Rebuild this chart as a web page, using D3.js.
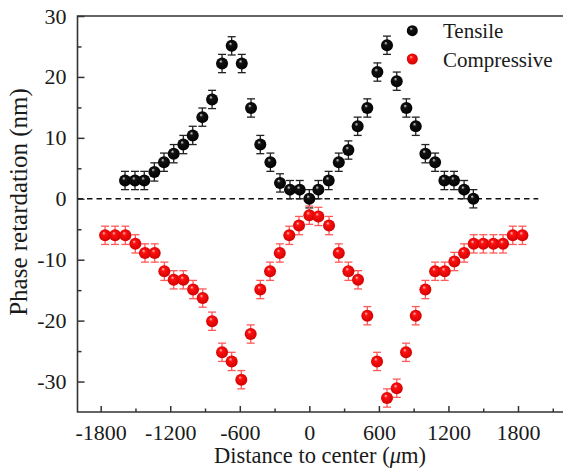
<!DOCTYPE html>
<html>
<head>
<meta charset="utf-8">
<script src="https://cdn.jsdelivr.net/npm/d3@7"></script>
<style>
  html, body { margin: 0; padding: 0; background: #fff; }
  svg { display: block; }
  text { font-family: "Liberation Serif", "Times New Roman", serif; fill: #1a1a1a; }
</style>
</head>
<body>
<svg id="chart" width="563" height="469"></svg>
<script>
// ---- data ----
const tensileX = [-1590,-1504,-1424,-1337,-1254,-1170,-1087,-1006,-923,-839,-753,-670,-583,-503,-423,-336,-253,-167,-83,0,78,167,254,337,417,500,587,670,754,837,918,1001,1085,1165,1248,1335,1415];
const tensileY = [3,3,3,4.4,6,7.4,8.9,10.4,13.4,16.3,22.2,25.1,22.2,14.9,8.9,6,2.6,1.5,1.5,0,1.5,3,6,8,11.9,14.9,20.8,25.2,19.3,14.9,11.9,7.4,6,3,3,1.5,0];
const tensileErr = [1.5,1.5,1.5,1.5,1.5,1.5,1.5,1.5,1.5,1.5,1.5,1.5,1.5,1.5,1.5,1.5,1.5,1.5,1.5,1.5,1.5,1.5,1.5,1.5,1.5,1.5,1.5,1.5,1.5,1.5,1.5,1.5,1.5,1.5,1.5,1.5,1.5];

const compX = [-1762,-1676,-1587,-1501,-1418,-1334,-1251,-1170,-1087,-1003,-920,-839,-753,-670,-587,-506,-423,-339,-255,-173,-89,0,78,170,254,337,420,500,584,670,754,834,918,1001,1085,1168,1251,1335,1418,1501,1588,1671,1755,1838];
const compY = [-6,-6,-6,-7.4,-8.9,-8.9,-11.9,-13.3,-13.3,-14.9,-16.3,-20.1,-25.2,-26.7,-29.7,-22.2,-14.9,-11.9,-8.9,-6,-4.4,-2.7,-2.9,-4.4,-8.9,-11.9,-13.3,-19.2,-26.7,-32.7,-31.1,-25.2,-19.2,-14.9,-11.9,-11.9,-10.3,-8.9,-7.4,-7.4,-7.4,-7.4,-6,-6];
const compErr = [1.5,1.5,1.5,1.5,1.5,1.5,1.5,1.5,1.5,1.5,1.5,1.5,1.5,1.5,1.5,1.5,1.5,1.5,1.5,1.5,1.5,1.5,1.5,1.5,1.5,1.5,1.5,1.5,1.5,1.5,1.5,1.5,1.5,1.5,1.5,1.5,1.5,1.5,1.5,1.5,1.5,1.5,1.5,1.5];

const xMajorTicks = [-1800,-1200,-600,0,600,1200,1800];
const xMinorTicks = [-1500,-900,-300,300,900,1500,2100];
const yMajorTicks = [-30,-20,-10,0,10,20,30];
const yMinorTicks = [-25,-15,-5,5,15,25];
const xTitleParts = ["Distance to center (", "\u03BC", "m)"];
const yTitle = "Phase retardation (nm)";
const seriesNames = ["Tensile", "Compressive"];

// ---- layout ----
const svg = d3.select("#chart");
const plotLeft = 77.5, plotTop = 16, plotBottom = 412;
const x = d3.scaleLinear().domain([-2000, 2200]).range([plotLeft, plotLeft + 4200 * 0.11592]);
const y = d3.scaleLinear().domain([-35, 30]).range([plotBottom, plotTop]);

// gradients for sphere markers
const defs = svg.append("defs");
function sphere(id, base, light, dark) {
  const g = defs.append("radialGradient").attr("id", id)
    .attr("cx", "0.5").attr("cy", "0.5").attr("r", "0.6")
    .attr("fx", "0.38").attr("fy", "0.3");
  g.append("stop").attr("offset", "0%").attr("stop-color", light);
  g.append("stop").attr("offset", "25%").attr("stop-color", base);
  g.append("stop").attr("offset", "100%").attr("stop-color", dark);
}
sphere("gBlack", "#111", "#e0e0e0", "#000");
sphere("gRed", "#ff1010", "#ffc8c8", "#c80000");

// zero dashed line
svg.append("line")
  .attr("x1", x(-2000)).attr("x2", x(1975))
  .attr("y1", y(0)).attr("y2", y(0))
  .attr("stroke", "#111").attr("stroke-width", 1.5)
  .attr("stroke-dasharray", "5.5,4");

// axes
const axisColor = "#333";
const xAxis = svg.append("g").attr("transform", `translate(0,${plotBottom})`)
  .call(d3.axisBottom(x).tickValues(xMajorTicks).tickSize(-6).tickPadding(12).tickFormat(d3.format("d")));
svg.append("g").attr("transform", `translate(0,${plotBottom})`)
  .call(d3.axisBottom(x).tickValues(xMinorTicks).tickSize(-3.5).tickFormat(""))
  .select(".domain").remove();
const yAxis = svg.append("g").attr("transform", `translate(${plotLeft},0)`)
  .call(d3.axisLeft(y).tickValues(yMajorTicks).tickSize(-7).tickPadding(11).tickFormat(d3.format("d")));
svg.append("g").attr("transform", `translate(${plotLeft},0)`)
  .call(d3.axisLeft(y).tickValues(yMinorTicks).tickSize(-4).tickFormat(""))
  .select(".domain").remove();
svg.selectAll(".domain").remove();
svg.selectAll(".tick line").attr("stroke", axisColor).attr("stroke-width", 1.5);
xAxis.selectAll("text").attr("font-size", 22).style("font-family", '"Liberation Serif", serif').attr("fill", "#1a1a1a")
  .text(d => d < 0 ? "-" + Math.abs(d) : d);
yAxis.selectAll("text").attr("font-size", 22).style("font-family", '"Liberation Serif", serif').attr("fill", "#1a1a1a")
  .text(d => d < 0 ? "-" + Math.abs(d) : d);

// frame
svg.append("path")
  .attr("d", `M${x(2200)+2},${plotTop} H${plotLeft} V${plotBottom} H${x(2200)+2}`)
  .attr("fill", "none").attr("stroke", axisColor).attr("stroke-width", 1.6);

// axis titles
const xt = svg.append("text").attr("x", 320).attr("y", 463).attr("text-anchor", "middle")
  .attr("font-size", 22.5);
xt.append("tspan").text(xTitleParts[0]);
xt.append("tspan").attr("font-style", "italic").text(xTitleParts[1]);
xt.append("tspan").text(xTitleParts[2]);
svg.append("text").attr("transform", `translate(27,202) rotate(-90)`).attr("text-anchor", "middle")
  .attr("font-size", 25).text(yTitle);

// series
function drawSeries(xs, ys, es, fillId, errColor) {
  const data = xs.map((d, i) => ({ x: d, y: ys[i], e: es[i] }));
  const g = svg.append("g");
  const eb = g.selectAll("g.eb").data(data).join("g").attr("class", "eb")
    .attr("stroke", errColor).attr("stroke-width", 1.3);
  eb.append("line").attr("x1", d => x(d.x)).attr("x2", d => x(d.x))
    .attr("y1", d => y(d.y + d.e)).attr("y2", d => y(d.y - d.e));
  eb.append("line").attr("x1", d => x(d.x) - 4).attr("x2", d => x(d.x) + 4)
    .attr("y1", d => y(d.y + d.e)).attr("y2", d => y(d.y + d.e));
  eb.append("line").attr("x1", d => x(d.x) - 4).attr("x2", d => x(d.x) + 4)
    .attr("y1", d => y(d.y - d.e)).attr("y2", d => y(d.y - d.e));
  g.selectAll("circle").data(data).join("circle")
    .attr("cx", d => x(d.x)).attr("cy", d => y(d.y)).attr("r", 6)
    .attr("fill", `url(#${fillId})`);
}
drawSeries(tensileX, tensileY, tensileErr, "gBlack", "#222");
drawSeries(compX, compY, compErr, "gRed", "#ff5a5a");

// legend
const legend = svg.append("g");
[["gBlack", 30.7], ["gRed", 59]].forEach(([id, ly], i) => {
  legend.append("circle").attr("cx", 412.3).attr("cy", ly).attr("r", 5.5).attr("fill", `url(#${id})`);
  legend.append("text").attr("x", 443).attr("y", ly + 7.5).attr("font-size", 21).text(seriesNames[i]);
});
</script>
</body>
</html>
